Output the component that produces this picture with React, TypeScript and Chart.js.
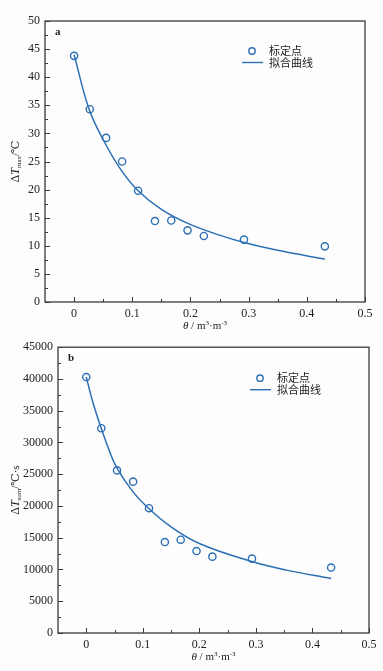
import React, { useEffect, useRef } from 'react';
import { Chart, registerables } from 'chart.js';

Chart.register(...registerables);

// ---- Data (chart a) ----
const pointsAX = [0, 0.027, 0.055, 0.0825, 0.11, 0.139, 0.167, 0.195, 0.223, 0.292, 0.431];
const pointsAY = [43.8, 34.3, 29.2, 25.0, 19.8, 14.4, 14.5, 12.75, 11.75, 11.1, 9.9];
const curveAX = [0, 0.0258, 0.0515, 0.08, 0.11, 0.15, 0.1976, 0.25, 0.292, 0.35, 0.431];
const curveAY = [44.0, 34.3, 28.6, 23.6, 19.8, 16.5, 13.9, 11.9, 10.6, 9.2, 7.65];

// ---- Data (chart b) ----
const pointsBX = [0, 0.0266, 0.0544, 0.0828, 0.111, 0.139, 0.167, 0.195, 0.223, 0.293, 0.433];
const pointsBY = [40300, 32250, 25600, 23830, 19650, 14320, 14690, 12900, 12020, 11710, 10300];
const curveBX = [0, 0.011, 0.026, 0.0408, 0.054, 0.082, 0.11, 0.147, 0.2, 0.293, 0.354, 0.433];
const curveBY = [40300, 36530, 32350, 28690, 26000, 22300, 19650, 16900, 14100, 11250, 9900, 8580];

// ---- Ticks ----
const xTicks = [0, 0.1, 0.2, 0.3, 0.4, 0.5];
const xMinorTicks = [0.05, 0.15, 0.25, 0.35, 0.45];
const yTicksA = [0, 5, 10, 15, 20, 25, 30, 35, 40, 45, 50];
const yMinorA = [2.5, 7.5, 12.5, 17.5, 22.5, 27.5, 32.5, 37.5, 42.5, 47.5];
const yTicksB = [0, 5000, 10000, 15000, 20000, 25000, 30000, 35000, 40000, 45000];
const yMinorB = [2500, 7500, 12500, 17500, 22500, 27500, 32500, 37500, 42500];

const legendLabels = ['标定点', '拟合曲线'];

const BLUE = '#2b6fb5';
const AXIS = '#3a3a3a';
const TEXT = '#222';
const SERIF = '"Liberation Serif", "DejaVu Serif", serif';
const CJK = '"Noto Sans CJK SC", sans-serif';

type Part = { text: string; font: string; dy?: number };

function drawParts(ctx: CanvasRenderingContext2D, parts: Part[], cx: number, cy: number) {
  let total = 0;
  for (const p of parts) {
    ctx.font = p.font;
    total += ctx.measureText(p.text).width;
  }
  let x = cx - total / 2;
  ctx.textBaseline = 'middle';
  ctx.textAlign = 'left';
  for (const p of parts) {
    ctx.font = p.font;
    ctx.fillText(p.text, x, cy + (p.dy || 0));
    x += ctx.measureText(p.text).width;
  }
}

function makeChart(
  canvas: HTMLCanvasElement,
  o: {
    px: number[]; py: number[]; cx: number[]; cy: number[];
    yMax: number; yTicks: number[]; yMinor: number[];
    yWidth: number; xHeight: number; padding: { top: number; right: number; left: number; bottom: number };
    letter: string; sub: string; unit: string;
    legendDX: number; legendDY: number; xTitleDY: number; yTitleX: number;
  }
) {
  const overlay = {
    id: 'overlay',
    afterDraw(chart: any) {
      const ctx = chart.ctx as CanvasRenderingContext2D;
      const a = chart.chartArea;
      const xs = chart.scales.x;
      const ys = chart.scales.y;
      ctx.save();
      // frame
      ctx.strokeStyle = AXIS;
      ctx.lineWidth = 1.3;
      ctx.strokeRect(a.left, a.top, a.right - a.left, a.bottom - a.top);
      // ticks (inward)
      ctx.lineWidth = 1;
      ctx.beginPath();
      for (const v of xTicks) {
        const x = Math.round(xs.getPixelForValue(v)) + 0.5;
        ctx.moveTo(x, a.bottom); ctx.lineTo(x, a.bottom - 5);
      }
      for (const v of xMinorTicks) {
        const x = Math.round(xs.getPixelForValue(v)) + 0.5;
        ctx.moveTo(x, a.bottom); ctx.lineTo(x, a.bottom - 3);
      }
      for (const v of o.yTicks) {
        const y = Math.round(ys.getPixelForValue(v)) + 0.5;
        ctx.moveTo(a.left, y); ctx.lineTo(a.left + 5, y);
      }
      for (const v of o.yMinor) {
        const y = Math.round(ys.getPixelForValue(v)) + 0.5;
        ctx.moveTo(a.left, y); ctx.lineTo(a.left + 3, y);
      }
      ctx.stroke();

      // panel letter
      ctx.fillStyle = TEXT;
      ctx.font = 'bold 11px ' + SERIF;
      ctx.textAlign = 'left';
      ctx.textBaseline = 'middle';
      ctx.fillText(o.letter, a.left + 10, a.top + 11);

      // legend
      const lx = a.right - o.legendDX;
      const ly = a.top + o.legendDY;
      ctx.strokeStyle = BLUE;
      ctx.lineWidth = 1.4;
      ctx.beginPath();
      ctx.arc(lx, ly, 3.2, 0, Math.PI * 2);
      ctx.stroke();
      ctx.beginPath();
      ctx.moveTo(lx - 10, ly + 11.5);
      ctx.lineTo(lx + 11, ly + 11.5);
      ctx.stroke();
      ctx.fillStyle = TEXT;
      ctx.font = '11px ' + CJK;
      ctx.fillText(legendLabels[0], lx + 17, ly);
      ctx.fillText(legendLabels[1], lx + 17, ly + 12);

      // x title
      ctx.fillStyle = TEXT;
      const xcx = (a.left + a.right) / 2;
      drawParts(ctx, [
        { text: 'θ', font: 'italic 11px ' + SERIF },
        { text: ' / m', font: '11px ' + SERIF },
        { text: '3', font: '7px ' + SERIF, dy: -3 },
        { text: '·m', font: '11px ' + SERIF },
        { text: '-3', font: '7px ' + SERIF, dy: -3 },
      ], xcx, a.bottom + o.xTitleDY);

      // y title
      ctx.save();
      ctx.translate(o.yTitleX, (a.top + a.bottom) / 2);
      ctx.rotate(-Math.PI / 2);
      drawParts(ctx, [
        { text: 'Δ', font: '12px ' + SERIF },
        { text: 'T', font: 'italic 12px ' + SERIF },
        { text: o.sub, font: '7px ' + SERIF, dy: 3 },
        { text: '/' + o.unit, font: '11px ' + SERIF },
      ], 0, 0);
      ctx.restore();
      ctx.restore();
    },
  };

  const tickFont = { family: SERIF, size: 12 };

  return new Chart(canvas, {
    type: 'scatter',
    data: {
      datasets: [
        {
          label: legendLabels[1],
          data: o.cx.map((x, i) => ({ x, y: o.cy[i] })),
          showLine: true,
          borderColor: BLUE,
          borderWidth: 1.5,
          pointRadius: 0,
          tension: 0.4,
          fill: false,
        },
        {
          label: legendLabels[0],
          data: o.px.map((x, i) => ({ x, y: o.py[i] })),
          showLine: false,
          borderColor: BLUE,
          backgroundColor: 'rgba(0,0,0,0)',
          borderWidth: 1.4,
          pointRadius: 3.6,
          pointStyle: 'circle',
        },
      ],
    },
    options: {
      responsive: false,
      animation: false,
      devicePixelRatio: 1,
      layout: { padding: o.padding },
      plugins: { legend: { display: false }, tooltip: { enabled: false } },
      scales: {
        x: {
          type: 'linear',
          min: -0.05,
          max: 0.5,
          afterBuildTicks: (s: any) => { s.ticks = xTicks.map((v) => ({ value: v })); },
          afterFit: (s: any) => { s.height = o.xHeight; },
          grid: { display: false, drawTicks: false },
          border: { display: false },
          ticks: {
            font: tickFont, color: TEXT, padding: 5, autoSkip: false, maxRotation: 0,
            callback: (v: any) => String(v),
          },
        },
        y: {
          type: 'linear',
          min: 0,
          max: o.yMax,
          afterBuildTicks: (s: any) => { s.ticks = o.yTicks.map((v) => ({ value: v })); },
          afterFit: (s: any) => { s.width = o.yWidth; },
          grid: { display: false, drawTicks: false },
          border: { display: false },
          ticks: {
            font: tickFont, color: TEXT, padding: 5, autoSkip: false,
            callback: (v: any) => String(v),
          },
        },
      },
    },
    plugins: [overlay],
  } as any);
}

export default function App() {
  const refA = useRef<HTMLCanvasElement>(null);
  const refB = useRef<HTMLCanvasElement>(null);

  useEffect(() => {
    const ca = makeChart(refA.current!, {
      px: pointsAX, py: pointsAY, cx: curveAX, cy: curveAY,
      yMax: 50, yTicks: yTicksA, yMinor: yMinorA,
      yWidth: 45, xHeight: 33, padding: { top: 21, right: 18, left: 0, bottom: 0 },
      letter: 'a', sub: 'max', unit: '℃',
      legendDX: 113, legendDY: 30, xTitleDY: 24, yTitleX: 16,
    });
    const cb = makeChart(refB.current!, {
      px: pointsBX, py: pointsBY, cx: curveBX, cy: curveBY,
      yMax: 45000, yTicks: yTicksB, yMinor: yMinorB,
      yWidth: 58, xHeight: 38, padding: { top: 11, right: 14, left: 0, bottom: 0 },
      letter: 'b', sub: 'sum', unit: '℃·s',
      legendDX: 109, legendDY: 31, xTitleDY: 24, yTitleX: 16,
    });
    return () => { ca.destroy(); cb.destroy(); };
  }, []);

  return (
    <div style={{ position: 'absolute', left: 0, top: 0, width: 383, height: 671, background: '#fdfdfd' }}>
      <canvas ref={refA} width={383} height={335} style={{ display: 'block', width: 383, height: 335 }} />
      <canvas ref={refB} width={383} height={336} style={{ display: 'block', width: 383, height: 336 }} />
    </div>
  );
}
